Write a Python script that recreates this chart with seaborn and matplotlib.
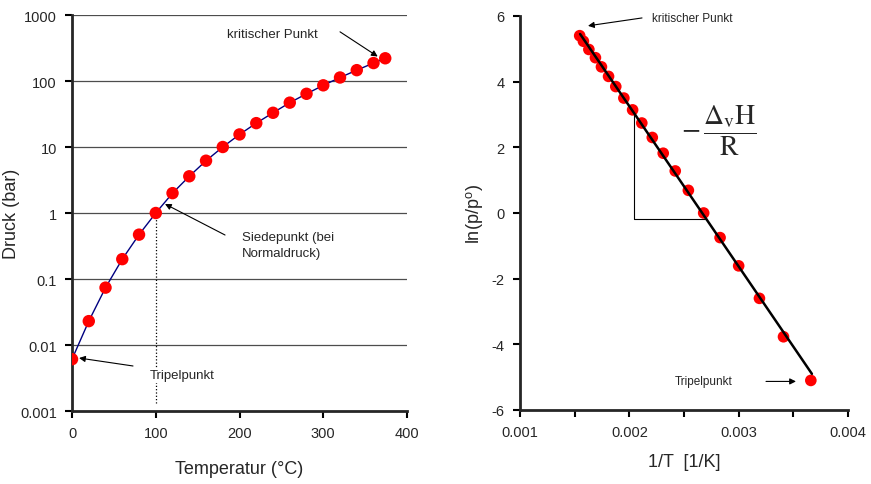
import numpy as np
import pandas as pd
import matplotlib
matplotlib.use('Agg')
import matplotlib.pyplot as plt
from matplotlib.ticker import NullLocator
import seaborn as sns

# vapour pressure of water
temp_c = [0, 20, 40, 60, 80, 100, 120, 140, 160, 180, 200, 220, 240, 260, 280, 300, 320, 340, 360, 374]
druck_bar = [0.0061, 0.023, 0.074, 0.2, 0.47, 1.0, 2.0, 3.6, 6.2, 10.0, 15.5, 23.0, 33.0, 47.0, 64.0, 86.0, 113.0, 146.0, 187.0, 221.0]

# Clausius-Clapeyron representation
inv_t = [0.00366, 0.00341, 0.00319, 0.00300, 0.00283, 0.00268, 0.00254, 0.00242, 0.00231, 0.00221,
         0.002114, 0.00203, 0.00195, 0.001876, 0.00181, 0.001745, 0.00169, 0.00163, 0.00158, 0.001546]
ln_p = [-5.10, -3.77, -2.60, -1.61, -0.75, 0.0, 0.69, 1.28, 1.82, 2.30,
        2.74, 3.14, 3.50, 3.85, 4.16, 4.45, 4.73, 4.98, 5.23, 5.40]
fit_x = [0.00155, 0.00367]
fit_y = [5.45, -4.90]

left = pd.DataFrame({'T': temp_c, 'p': druck_bar})
right = pd.DataFrame({'invT': inv_t, 'lnp': ln_p})

sns.set_style('ticks')
plt.rcParams['font.family'] = ['Liberation Sans', 'DejaVu Sans']
plt.rcParams['mathtext.fontset'] = 'stix'
plt.rcParams['axes.unicode_minus'] = False

fig = plt.figure(figsize=(8.71, 4.85), dpi=100)
ax1 = fig.add_axes([0.0827, 0.1505, 0.3846, 0.8165])
ax2 = fig.add_axes([0.597, 0.1526, 0.3766, 0.8124])

# ---- left: p vs T (log) ----
ax1.set_yscale('log')
for v in [0.01, 0.1, 1, 10, 100, 1000]:
    ax1.axhline(v, color='0.3', lw=0.9, zorder=0)
ax1.plot([100, 100], [1, 0.0013], color='black', ls=':', lw=0.9, zorder=1)
sns.lineplot(data=left, x='T', y='p', ax=ax1, color='#000080', lw=1, zorder=2)
sns.scatterplot(data=left, x='T', y='p', ax=ax1, color='#ff0000', s=80, edgecolor='none', zorder=3)
ax1.set_xlim(0, 400)
ax1.set_ylim(0.001, 1000)
ax1.set_xticks([0, 100, 200, 300, 400])
ax1.set_yticks([0.001, 0.01, 0.1, 1, 10, 100, 1000], ['0.001', '0.01', '0.1', '1', '10', '100', '1000'])
ax1.yaxis.set_minor_locator(NullLocator())
ax1.set_xlabel('Temperatur (°C)', fontsize=13, labelpad=14)
ax1.set_ylabel('Druck (bar)', fontsize=13)
ax1.yaxis.set_label_coords(-0.155, 0.5)

arrow = dict(arrowstyle='-|>', color='black', lw=0.8, mutation_scale=9, shrinkA=0, shrinkB=0)
ax1.text(185, 517, 'kritischer Punkt', fontsize=9.5, va='center', ha='left')
ax1.annotate('', xy=(365, 235), xytext=(320, 556), arrowprops=arrow)
ax1.text(203, 0.33, 'Siedepunkt (bei\nNormaldruck)', fontsize=9.5, va='center', ha='left', linespacing=1.45)
ax1.annotate('', xy=(111, 1.37), xytext=(182.7, 0.464), arrowprops=arrow)
ax1.text(93, 0.0035, 'Tripelpunkt', fontsize=9.5, va='center', ha='left',
         bbox=dict(facecolor='white', edgecolor='none', pad=1))
ax1.annotate('', xy=(8.4, 0.00635), xytext=(72.8, 0.00481), arrowprops=arrow)

# ---- right: ln p vs 1/T ----
sns.scatterplot(data=right, x='invT', y='lnp', ax=ax2, color='#ff0000', s=70, edgecolor='none', zorder=2)
sns.lineplot(x=fit_x, y=fit_y, ax=ax2, color='black', lw=1.8, zorder=3)
ax2.plot([0.002045, 0.002045, 0.00269], [2.97, -0.18, -0.18], color='black', lw=0.8, zorder=1)
ax2.set_xlim(0.001, 0.004)
ax2.set_ylim(-6, 6)
ax2.set_xticks([0.001, 0.002, 0.003, 0.004], ['0.001', '0.002', '0.003', '0.004'])
ax2.set_xticks([0.0015, 0.0025, 0.0035], minor=True)
ax2.set_yticks([-6, -4, -2, 0, 2, 4, 6])
ax2.set_xlabel('1/T  [1/K]', fontsize=13, labelpad=10)
ax2.set_ylabel('ln(p/p$^\\mathregular{o}$)', fontsize=13, labelpad=4)
ax2.text(0.002207, 5.94, 'kritischer Punkt', fontsize=8.5, va='center', ha='left')
ax2.annotate('', xy=(0.001622, 5.70), xytext=(0.002116, 5.94), arrowprops=arrow)
ax2.text(0.002418, -5.13, 'Tripelpunkt', fontsize=8.5, va='center', ha='left')
ax2.annotate('', xy=(0.003524, -5.13), xytext=(0.00325, -5.13), arrowprops=arrow)
ax2.text(0.00282, 2.52, r'$-\,\dfrac{\Delta_{\rm v}\mathrm{H}}{\mathrm{R}}$', fontsize=20, ha='center', va='center')

for ax in (ax1, ax2):
    sns.despine(ax=ax)
    ax.spines['left'].set_linewidth(2)
    ax.spines['bottom'].set_linewidth(2)
    ax.tick_params(which='both', direction='out', length=5, width=1.5, labelsize=10.5, color='black', pad=6)
    ax.grid(False)

fig.savefig('out.png', dpi=100)
